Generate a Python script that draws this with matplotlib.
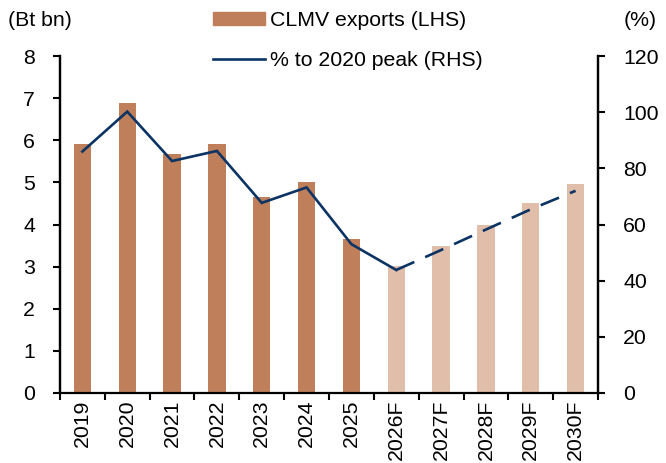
#! /usr/bin/env python3

import numpy as np
import matplotlib
matplotlib.use('Agg')
import matplotlib.pyplot as plt
from matplotlib.ticker import FixedLocator
from matplotlib.patches import Patch
from matplotlib.lines import Line2D

plt.rcParams['font.family'] = ['Liberation Sans', 'DejaVu Sans']

# data
years = ['2019', '2020', '2021', '2022', '2023', '2024', '2025',
         '2026F', '2027F', '2028F', '2029F', '2030F']
exports = [5.9, 6.88, 5.68, 5.92, 4.65, 5.02, 3.66, 3.01, 3.5, 4.0, 4.5, 4.95]
pct_peak = [86.0, 100.2, 82.6, 86.2, 67.7, 73.2, 53.0, 43.8, 50.9, 58.2, 65.4, 72.0]
n_actual = 7   # 2019-2025 are actuals, rest forecast

dark = '#BF7F5B'
light = '#E1BEA9'
navy = '#0B3363'
fs = 15.3

fig = plt.figure(figsize=(6.66, 4.63), dpi=100)
ax = fig.add_axes([60/666, 1-393/463, 538/666, 337/463])
ax2 = ax.twinx()

x = np.arange(len(years))
colors = [dark if i < n_actual else light for i in range(len(years))]
ax.bar(x, exports, width=0.39, color=colors, zorder=2)

# line: solid for actuals + first forecast point, dashed afterwards
ax2.plot(x[:n_actual+1], pct_peak[:n_actual+1], color=navy, lw=1.9,
         solid_joinstyle='miter', zorder=3)
ax2.plot(x[n_actual:], pct_peak[n_actual:], color=navy, lw=1.9,
         linestyle=(0, (7.5, 4.5)), zorder=3)

ax.set_xlim(-0.5, len(years) - 0.5)
ax.set_ylim(0, 8)
ax2.set_ylim(0, 120)
ax.set_yticks(range(0, 9))
ax2.set_yticks(range(0, 121, 20))

ax.set_xticks(x)
ax.set_xticklabels(years, rotation=90, fontsize=fs)
ax.xaxis.set_minor_locator(FixedLocator(np.arange(-0.5, len(years), 1)))
ax.tick_params(axis='x', which='major', length=0, pad=5)
ax.tick_params(axis='x', which='minor', length=5, width=1.5, direction='out')
ax.tick_params(axis='y', length=5, width=1.5, direction='out', pad=13, labelsize=fs)
ax2.tick_params(axis='y', length=5, width=1.5, direction='out', pad=13, labelsize=fs)

for a in (ax, ax2):
    a.spines['top'].set_visible(False)
    for s in ('left', 'right', 'bottom'):
        a.spines[s].set_linewidth(1.6)
ax2.spines['bottom'].set_visible(False)

fig.text(8/666, 1-20/463, '(Bt bn)', fontsize=fs, va='center', ha='left')
fig.text(657/666, 1-20/463, '(%)', fontsize=fs, va='center', ha='right')

handles = [Patch(color=dark), Line2D([], [], color=navy, lw=1.9)]
labels = ['CLMV exports (LHS)', '% to 2020 peak (RHS)']
fig.legend(handles, labels, loc='upper left', bbox_to_anchor=(213/666, 1-11/463),
           frameon=False, fontsize=fs, borderpad=0, borderaxespad=0,
           handlelength=2.45, handleheight=0.5, handletextpad=0.25, labelspacing=1.0)

fig.savefig('out.png', dpi=100)
